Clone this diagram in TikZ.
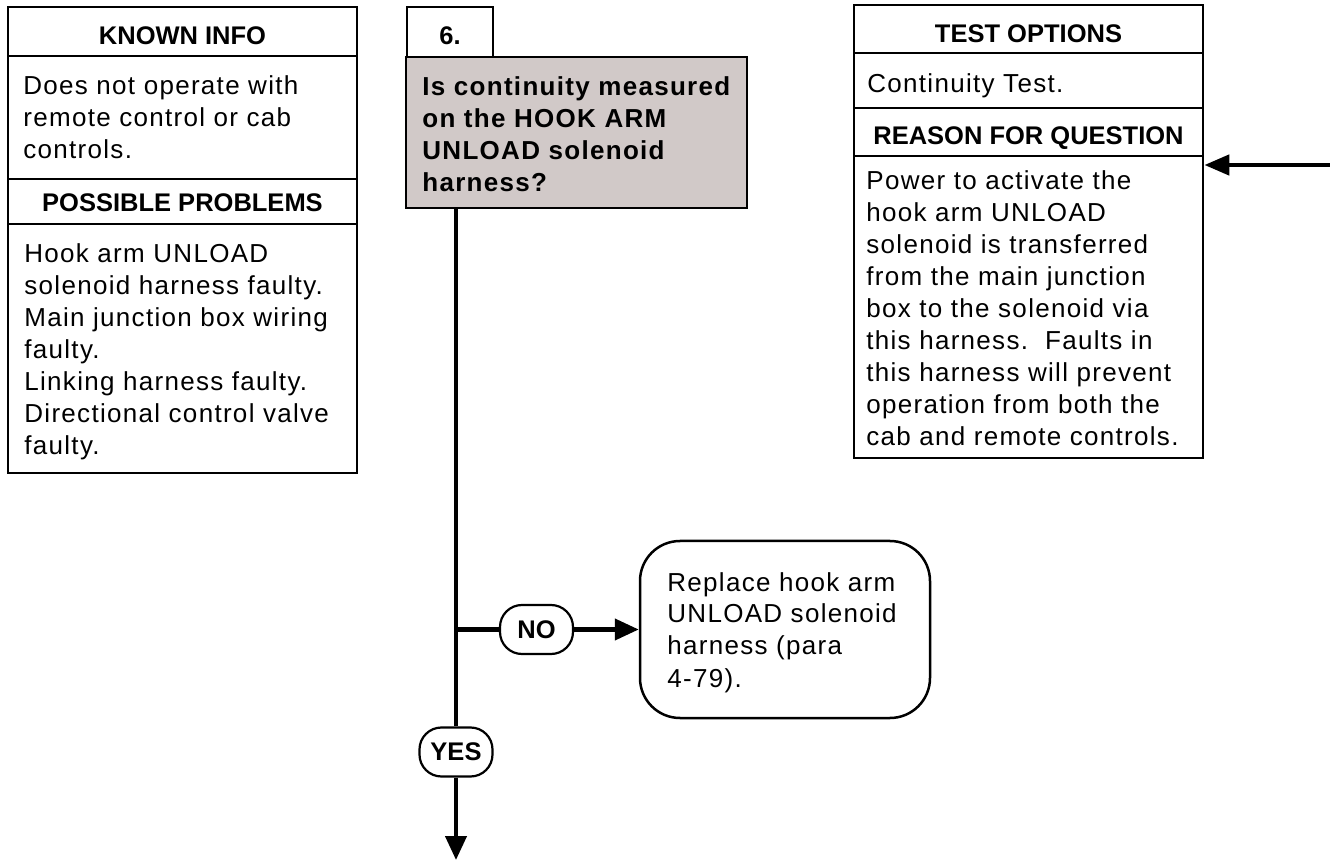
\documentclass[tikz,border=0pt]{standalone}
\usepackage{fontspec}
\setmainfont{Liberation Sans}
\newfontfamily\bodyfont[LetterSpace=5]{Liberation Sans}
\newfontfamily\qfont[LetterSpace=5]{Liberation Sans}
\usetikzlibrary{arrows.meta,fit}
\definecolor{qgray}{RGB}{209,201,200}
\newcommand{\lines}[1]{\parbox[t]{220pt}{\raggedright #1}}
\tikzset{
 frame/.style={draw, line width=1.35pt, inner sep=0pt},
 sep/.style={line width=1.35pt},
 hdr/.style={font=\fontsize{12.75}{15}\selectfont\bfseries, anchor=base, inner sep=0pt},
 body/.style={font=\bodyfont\fontsize{13}{16}\selectfont, anchor=base west, inner sep=0pt},
 qtext/.style={font=\qfont\bfseries\fontsize{13}{15.85}\selectfont, anchor=base west, inner sep=0pt},
 pill/.style={draw, line width=1.1pt, rounded corners=11pt, inner sep=0pt, minimum width=36.5pt, minimum height=24.5pt, font=\fontsize{12.75}{15}\selectfont\bfseries},
 conn/.style={line width=2.1pt},
 tip/.style={-{Triangle[length=12pt,width=10.5pt]}},
}
\begin{document}
\begin{tikzpicture}[x=0.5pt,y=-0.5pt]
\useasboundingbox (0,0) rectangle (1330,861);
% left box
\node[frame, fit={(8,7) (357,473)}] (kbox) {};
\draw[sep] (8,56) -- (357,56) (8,179) -- (357,179) (8,224) -- (357,224);
\node[hdr] (kih) at (182.5,45) {KNOWN INFO};
\node[body] (kit) at (23,95) {\lines{Does not operate with\\remote control or cab\\controls.}};
\node[hdr] (pph) at (182.5,212) {POSSIBLE PROBLEMS};
\node[body] (ppt) at (24,263) {\lines{Hook arm UNLOAD\\solenoid harness faulty.\\Main junction box wiring\\faulty.\\Linking harness faulty.\\Directional control valve\\faulty.}};
% center
\node[frame, fit={(407,7) (493,57)}] (num) {};
\node[hdr] (numt) at (450,45) {6.};
\node[frame, fill=qgray, fit={(406,57) (747,208)}] (q) {};
\node[qtext] (qt) at (422,96) {\lines{Is continuity measured\\on the HOOK ARM\\UNLOAD solenoid\\harness?}};
\node[pill] (yes) at (456,752) {YES};
\node[pill] (no) at (536.5,629.5) {NO};
\node[draw, line width=1.25pt, rounded corners=20pt, fit={(640,541) (930,718)}, inner sep=0pt] (rep) {};
\node[body] (rept) at (667,591) {\lines{Replace hook arm\\UNLOAD solenoid\\harness (para\\4-79).}};
\coordinate (end) at (456,860);
\draw[conn] (q.south -| yes.north) -- (yes.north);
\draw[conn, tip] (yes.south) -- (end);
\draw[conn] (yes.north |- no.west) -- (no.west);
\draw[conn, tip] (no.east) -- (rep.west |- no.east);
% right box
\node[frame, fit={(854,5) (1203,458)}] (tbox) {};
\draw[sep] (854,53) -- (1203,53) (854,108) -- (1203,108) (854,156) -- (1203,156);
\node[hdr] (toh) at (1028.5,43) {TEST OPTIONS};
\node[body] (tot) at (867,93) {Continuity Test.};
\node[hdr] (rqh) at (1028.5,145) {REASON FOR QUESTION};
\node[body] (rqt) at (866,190) {\lines{Power to activate the\\hook arm UNLOAD\\solenoid is transferred\\from the main junction\\box to the solenoid via\\this harness.\ \ Faults in\\this harness will prevent\\operation from both the\\cab and remote controls.}};
\coordinate (src) at (1330,165);
\draw[line width=2.3pt, -{Triangle[length=12.5pt,width=10pt]}] (src) -- (tbox.east |- src);
\end{tikzpicture}
\end{document}
